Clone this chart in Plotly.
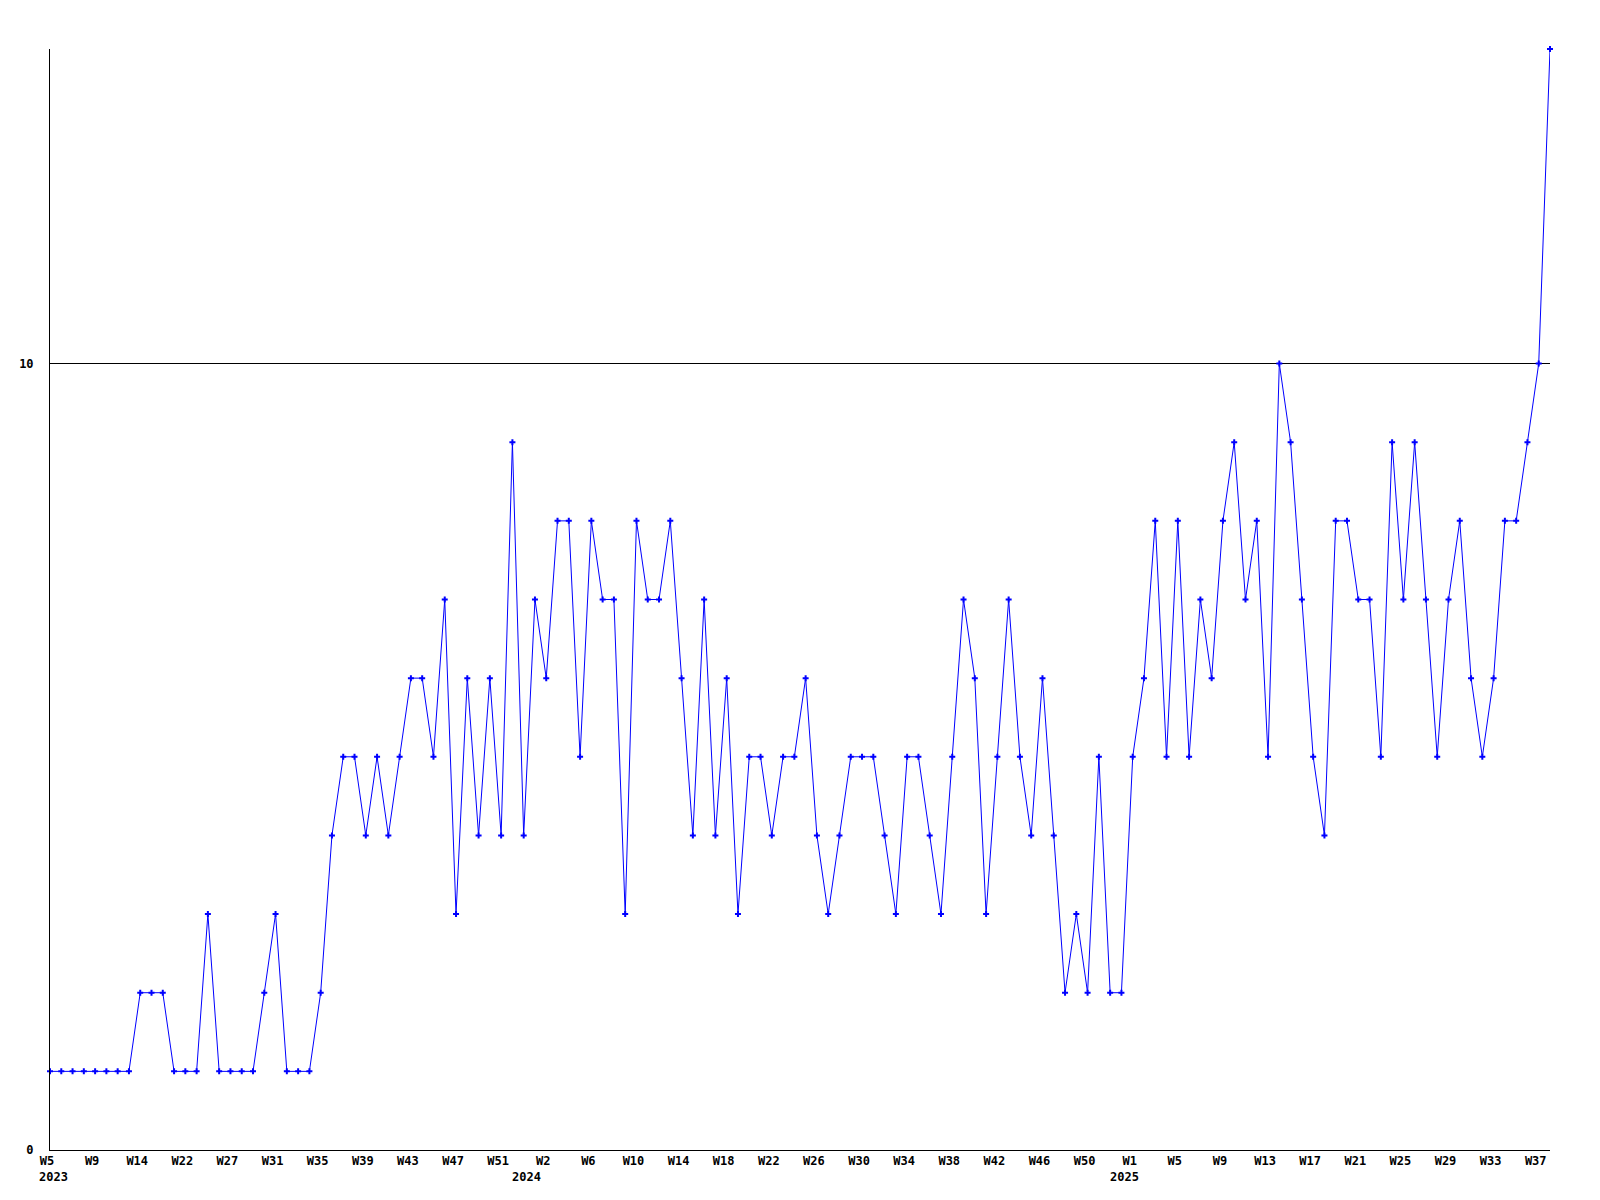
import plotly.graph_objects as go

# Weekly counts (one value per plotted week, in order)
values = [
    1, 1, 1, 1, 1, 1, 1, 1, 2, 2, 2, 1, 1, 1, 3, 1, 1, 1, 1, 2,
    3, 1, 1, 1, 2, 4, 5, 5, 4, 5, 4, 5, 6, 6, 5, 7, 3, 6, 4, 6,
    4, 9, 4, 7, 6, 8, 8, 5, 8, 7, 7, 3, 8, 7, 7, 8, 6, 4, 7, 4,
    6, 3, 5, 5, 4, 5, 5, 6, 4, 3, 4, 5, 5, 5, 4, 3, 5, 5, 4, 3,
    5, 7, 6, 3, 5, 7, 5, 4, 6, 4, 2, 3, 2, 5, 2, 2, 5, 6, 8, 5,
    8, 5, 7, 6, 8, 9, 7, 8, 5, 10, 9, 7, 5, 4, 8, 8, 7, 7, 5, 9,
    7, 9, 7, 5, 7, 8, 6, 5, 6, 8, 8, 9, 10, 14,
]

# Tick labels (shown every 4th week)
week_labels = [
    "W5", "W9", "W14", "W22", "W27", "W31", "W35", "W39", "W43", "W47", "W51",
    "W2", "W6", "W10", "W14", "W18", "W22", "W26", "W30", "W34", "W38", "W42", "W46", "W50",
    "W1", "W5", "W9", "W13", "W17", "W21", "W25", "W29", "W33", "W37",
]
tick_step = 4

# Year labels and the week index where each year begins
years = ["2023", "2024", "2025"]
year_start_index = [0, 42, 95]

y_ticks = [0, 10]

x = list(range(len(values)))
tickvals = [i * tick_step for i in range(len(week_labels))]

fig = go.Figure()
fig.add_trace(go.Scatter(
    x=x, y=values, mode="lines+markers",
    line=dict(color="#0000ff", width=1),
    marker=dict(symbol="cross", size=5, color="#0000ff"),
    cliponaxis=False,
    showlegend=False,
))

mono = dict(family="DejaVu Sans Mono", size=12, color="#000000", weight="bold")

for yr, idx in zip(years, year_start_index):
    fig.add_annotation(
        x=idx, y=0, xref="x", yref="y", text=yr, showarrow=False,
        xanchor="center", yanchor="middle", xshift=3, yshift=-27,
        font=mono,
    )

fig.update_layout(
    width=1600, height=1200,
    margin=dict(l=42, r=58, t=41, b=58, autoexpand=False),
    paper_bgcolor="white", plot_bgcolor="white",
    font=mono,
    xaxis=dict(
        range=[0, len(values) - 1],
        tickmode="array", tickvals=tickvals, ticktext=week_labels,
        showgrid=False, zeroline=False,
        showline=True, linecolor="black", linewidth=1,
        ticks="", tickfont=mono, tickangle=0, automargin=False,
        ticklabelshift=-3,
    ),
    yaxis=dict(
        range=[0, max(values)],
        tickmode="array", tickvals=y_ticks, ticktext=[str(v) for v in y_ticks],
        showgrid=True, gridcolor="black", gridwidth=1,
        zeroline=False,
        showline=True, linecolor="black", linewidth=1,
        ticks="", tickfont=mono, ticklabelstandoff=13, automargin=False,
    ),
)

fig.write_html("out.html")
